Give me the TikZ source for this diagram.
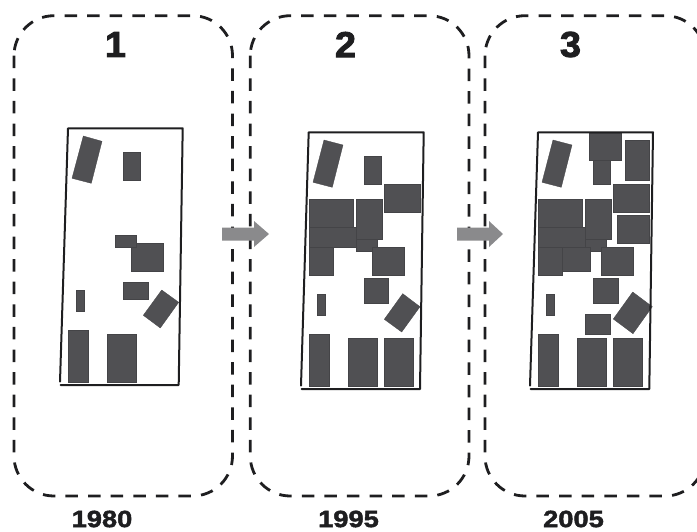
\documentclass[tikz,border=0pt]{standalone}
\usepackage{fontspec}
\setmainfont{Liberation Sans}
\newfontfamily\heavyfont[FakeBold=2.5,FakeStretch=1.05]{Liberation Sans Bold}
\newfontfamily\yearfont[FakeBold=2,FakeStretch=1.16]{Liberation Sans Bold}
\definecolor{bldg}{HTML}{505053}
\definecolor{arrowgrey}{HTML}{8A8A8C}
\definecolor{inkline}{HTML}{1E1E20}
\tikzset{
  x=1pt,y=-1pt,
  panel/.style={draw=inkline,line width=2.8pt,dash pattern=on 12.5pt off 10.1pt,rounded corners=40pt},
  site/.style={draw=inkline,line width=2pt,line join=round,line cap=round},
  bldgshape/.style={fill=bldg,draw=bldg!85!black,line width=0.3pt},
  num/.style={font=\heavyfont\fontsize{36}{36}\selectfont,text=inkline,inner sep=0pt},
  yearlabel/.style={font=\yearfont\fontsize{23.5}{24}\selectfont,text=inkline,inner sep=0pt},
  growth/.style={fill=arrowgrey,draw=none}
}
\newcommand{\bb}[2]{\path[bldgshape] (#1) rectangle (#2);}
\newcommand{\bq}[4]{\path[bldgshape] (#1) -- (#2) -- (#3) -- (#4) -- cycle;}
\begin{document}
\begin{tikzpicture}
\useasboundingbox (0,0) rectangle (697,531);
\clip (0,0) rectangle (697,531);
% panels
\draw[panel] (14,15.7) rectangle (232.5,496);
\draw[panel] (250.3,15.7) rectangle (469,496);
\draw[panel] (485,15.7) rectangle (705,496);
% numbers and years
\node[num] (n1) at (115.5,44.5) {1};
\node[num] (n2) at (345.5,44.5) {2};
\node[num] (n3) at (570.5,44.5) {3};
\node[yearlabel] (y1) at (102,519) {1980};
\node[yearlabel] (y2) at (348.5,519) {1995};
\node[yearlabel] (y3) at (573.5,519) {2005};
% arrows
\path[growth] (222,227.5) -- (254,227.5) -- (254,221) -- (269,234) -- (254,247) -- (254,240.5) -- (222,240.5) -- cycle;
\path[growth] (457,227.5) -- (489,227.5) -- (489,221) -- (503,234) -- (489,247) -- (489,240.5) -- (457,240.5) -- cycle;
% panel 1
\bq{83.3,136}{102,141.3}{91.3,183.3}{72,178.3}
\bb{123,151.7}{139.7,180}
\bb{131,242.7}{163.3,271}
\bb{115.3,234.7}{135.7,247.3}
\bb{123,282.3}{147.7,299}
\bq{161.7,290}{178.7,302.3}{160.3,328}{143.3,315.3}
\bb{75.7,290}{84.3,310.7}
\bb{68,329.7}{88.3,382}
\bb{107.3,333.7}{136,382}
\draw[site] (60,381.7) -- (68,128.3) -- (182.7,128.3) -- (178.7,385) -- (60.7,385);
% panel 2
\bq{324,140}{343,145}{332.3,187.3}{313,182.3}
\bb{364,155.7}{380.7,184}
\bb{384,183.7}{420,211.7}
\bb{309,199.3}{353,227.3}
\bb{309,227.3}{356.3,247.3}
\bb{356.3,239.3}{376.7,251.3}
\bb{356.3,199.3}{382,239.3}
\bb{309,247.3}{333,275}
\bb{372,247}{404,275}
\bb{364,278.3}{388.3,303}
\bb{316.7,294}{325.3,314.7}
\bq{402.7,293.7}{420,306.7}{401.7,332}{384.3,319.3}
\bb{309,333.7}{329.3,385.7}
\bb{348.3,337.7}{377,385.7}
\bb{384,337.7}{412.7,385.7}
\draw[site] (301,385.7) -- (308.7,132.3) -- (423.7,132.3) -- (420,389) -- (301.7,389);
% panel 3
\bq{553,140}{572,145}{561.3,187.3}{542,182.3}
\bb{593,160.3}{609.7,184}
\bb{589,132.7}{621.3,160.3}
\bb{625,140}{649,180}
\bb{613,183.7}{649,211.7}
\bb{617,215}{649,243.3}
\bb{538,199.3}{582,227.3}
\bb{538,227.3}{585.3,247.3}
\bb{585.3,239.3}{605.7,251.3}
\bb{585.3,199.3}{611,239.3}
\bb{562,247.3}{589.7,271}
\bb{538,247.3}{562,275}
\bb{601,247}{633.3,275}
\bb{593,278.3}{617.7,303}
\bb{545.7,294}{554.3,314.7}
\bq{632.7,292}{652.3,306.7}{633,333.7}{613.3,319}
\bb{585.3,314}{609.7,334.3}
\bb{538,333.7}{558.3,385.7}
\bb{577.3,337.7}{606,385.7}
\bb{613,337.7}{641.7,385.7}
\draw[site] (530,385.7) -- (538,132.3) -- (653,132.3) -- (649.3,389) -- (530.7,389);
\end{tikzpicture}
\end{document}
